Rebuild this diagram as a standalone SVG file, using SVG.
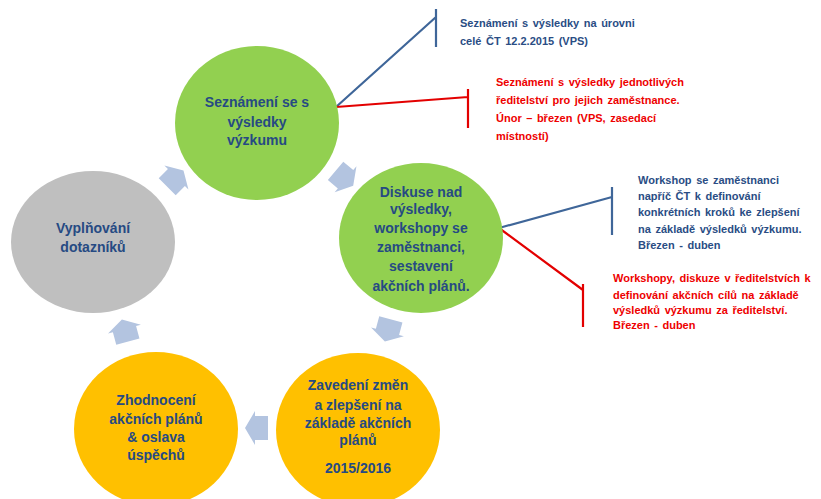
<svg xmlns="http://www.w3.org/2000/svg" width="821" height="499" viewBox="0 0 821 499">
<style>
.ct{font-family:"Liberation Sans",Arial,sans-serif;font-weight:bold;font-size:14px;fill:#264a83;text-anchor:middle}
.sb{font-family:"Liberation Sans",Arial,sans-serif;font-weight:bold;font-size:11px;word-spacing:1.5px;fill:#2a4d84}
.sr{font-family:"Liberation Sans",Arial,sans-serif;font-weight:bold;font-size:11px;word-spacing:1.5px;fill:#ee0000}
.arr{fill:#b3c4e0}
.lb{stroke:#3f6699;stroke-width:2.2;fill:none}
.lr{stroke:#e30000;stroke-width:2.2;fill:none}
</style>
<defs>
<path id="ar" d="M-11,-12 L2,-12 L2,-17 L12,0 L2,17 L2,12 L-11,12 Z"/>
</defs>
<rect width="821" height="499" fill="#ffffff"/>
<g id="connectors">
<use href="#ar" class="arr" transform="translate(175,179) rotate(-45)"/>
<use href="#ar" class="arr" transform="translate(344,178) rotate(40)"/>
<use href="#ar" class="arr" transform="translate(388,330) rotate(105)"/>
<use href="#ar" class="arr" transform="translate(257,428) rotate(180)"/>
<use href="#ar" class="arr" transform="translate(125,331) rotate(-105)"/>
<path class="lb" d="M336,107 L436,17 M436,9 L436,47"/>
<path class="lr" d="M336,107 L468,97 M468,89 L468,128"/>
<path class="lb" d="M499,228 L612,197 M612,187 L612,235"/>
<path class="lr" d="M499,228 L583,290 M583,284 L583,327"/>
</g>
<g id="n-gray">
<ellipse cx="93" cy="242" rx="82" ry="71" fill="#bfbfbf"/>
<text class="ct"><tspan x="93" y="233">Vyplňování</tspan><tspan x="93" y="252">dotazníků</tspan></text>
</g>
<g id="n-top">
<ellipse cx="257" cy="123" rx="82" ry="77" fill="#92d050"/>
<text class="ct"><tspan x="257" y="107">Seznámení se s</tspan><tspan x="257" y="127">výsledky</tspan><tspan x="257" y="145">výzkumu</tspan></text>
</g>
<g id="n-right">
<ellipse cx="421" cy="238" rx="82" ry="75" fill="#92d050"/>
<text class="ct"><tspan x="421" y="197">Diskuse nad</tspan><tspan x="421" y="214">výsledky,</tspan><tspan x="421" y="233">workshopy se</tspan><tspan x="421" y="252">zaměstnanci,</tspan><tspan x="421" y="271">sestavení</tspan><tspan x="421" y="291">akčních plánů.</tspan></text>
</g>
<g id="n-impl">
<ellipse cx="358" cy="430" rx="82" ry="77" fill="#ffc000"/>
<text class="ct"><tspan x="358" y="390">Zavedení změn</tspan><tspan x="358" y="410">a zlepšení na</tspan><tspan x="358" y="428">základě akčních</tspan><tspan x="358" y="445">plánů</tspan><tspan x="358" y="473">2015/2016</tspan></text>
</g>
<g id="n-eval">
<ellipse cx="156" cy="429" rx="82" ry="77" fill="#ffc000"/>
<text class="ct"><tspan x="156" y="405">Zhodnocení</tspan><tspan x="156" y="424">akčních plánů</tspan><tspan x="156" y="442">&amp; oslava</tspan><tspan x="156" y="460">úspěchů</tspan></text>
</g>
<g id="note1">
<text class="sb"><tspan x="460" y="27">Seznámení s výsledky na úrovni</tspan><tspan x="460" y="45">celé ČT 12.2.2015 (VPS)</tspan></text>
</g>
<g id="note2">
<text class="sr"><tspan x="496" y="86">Seznámení s výsledky jednotlivých</tspan><tspan x="496" y="104">ředitelství pro jejich zaměstnance.</tspan><tspan x="496" y="122">Únor – březen (VPS, zasedací</tspan><tspan x="496" y="140">místností)</tspan></text>
</g>
<g id="note3">
<text class="sb"><tspan x="638" y="184">Workshop se zaměstnanci</tspan><tspan x="638" y="200">napříč ČT k definování</tspan><tspan x="638" y="216">konkrétních kroků ke zlepšení</tspan><tspan x="638" y="233">na základě výsledků výzkumu.</tspan><tspan x="638" y="249">Březen - duben</tspan></text>
</g>
<g id="note4">
<text class="sr"><tspan x="613" y="282">Workshopy, diskuze v ředitelstvích k</tspan><tspan x="613" y="299">definování akčních cílů na základě</tspan><tspan x="613" y="314">výsledků výzkumu za ředitelství.</tspan><tspan x="613" y="329">Březen - duben</tspan></text>
</g>
</svg>
